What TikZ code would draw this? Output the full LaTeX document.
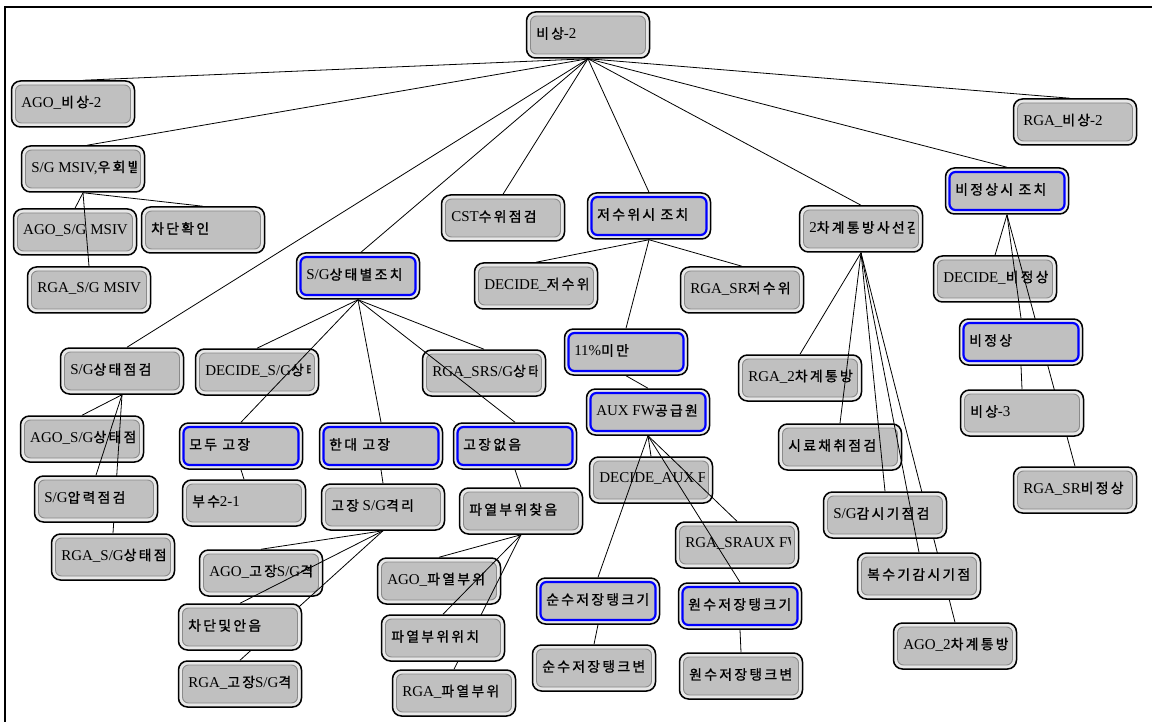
\documentclass[tikz,border=0pt]{standalone}
\usepackage{fontspec}
\setmainfont{Liberation Serif}
\newfontfamily\krfont{Noto Sans CJK KR}[Scale=0.92,LetterSpace=17,FakeBold=1.2]
\newcommand\hg[1]{{\krfont #1}}
\newcommand\lblfont{\fontsize{15pt}{18pt}\selectfont}

\definecolor{boxfill}{HTML}{C0C0C0}
\definecolor{boxband}{HTML}{E8E8E8}
\definecolor{boxline}{HTML}{8A8A8A}
\definecolor{ringblue}{HTML}{0000FF}

% inner face of a box: inset rounded panel with its own rim
\newcommand\boxface[2]{%
  \draw[draw=#1, line width=#2, fill=boxfill, rounded corners=6pt]
    ([shift={(4pt,4pt)}]path picture bounding box.south west) rectangle
    ([shift={(-4pt,-4pt)}]path picture bounding box.north east);}
% label, left aligned and cut off at the inner right edge
\newcommand\boxtext[1]{%
  \begin{scope}
    \clip ([shift={(4pt,4pt)}]path picture bounding box.south west) rectangle
          ([shift={(-8pt,-4pt)}]path picture bounding box.north east);
    \node[anchor=west, inner sep=0pt, minimum width=0pt, minimum height=0pt,
          font=\lblfont, text=black]
      at ([shift={(9pt,1.5pt)}]path picture bounding box.west) {#1};
  \end{scope}}

\pgfdeclarelayer{paper}
\pgfdeclarelayer{wiresunder}
\pgfdeclarelayer{lowboxes}
\pgfdeclarelayer{wires}
\pgfsetlayers{paper,wiresunder,lowboxes,wires,main}

\tikzset{
  wire/.style={draw=black, line width=0.8pt},
  boxbase/.style={rectangle, rounded corners=9pt, minimum width=123pt,
    minimum height=46pt, inner sep=0pt, draw=black, line width=1.5pt, fill=boxband},
  box/.style={boxbase, path picture={\boxface{boxline}{0.9pt}\boxtext{#1}}},
  bluebox/.style={boxbase, path picture={\boxface{ringblue}{2.2pt}\boxtext{#1}}},
}

\begin{document}
\begin{tikzpicture}[x=1pt,y=-1pt]
\useasboundingbox (0,0) rectangle (1152,722);
\begin{pgfonlayer}{paper}
  \fill[white] (0,0) rectangle (1152,722);
\end{pgfonlayer}

% ---------- boxes that wires may cross over ----------
\begin{pgfonlayer}{lowboxes}
  \node[box={AGO\_S/G MSIV}] (agomsiv) at (75,232) {};
  \node[box={DECIDE\_S/G\hg{상태}}] (decsg) at (257,372) {};
  \node[box={RGA\_SRS/G\hg{상태}}] (rgasr) at (484,373) {};
  \node[box={AGO\_S/G\hg{상태점검}}] (agosg) at (82,439) {};
  \node[box={AGO\_\hg{고장}S/G\hg{격리}}] (agogo) at (261,573) {};
  \node[box={AGO\_\hg{파열부위}}] (agopa) at (439,581) {};
  \node[box={DECIDE\_AUX FW}] (decaux) at (651,480) {};
  \node[box={RGA\_SRAUX FW}] (rgaaux) at (737,545) {};
  \node[box={RGA\_2\hg{차계통방사선}}] (rgarad) at (800,378) {};
  \node[box={\hg{시료채취점검}}] (sample) at (840,447) {};
  \node[box={S/G\hg{감시기점검}}] (sgmon) at (885,515) {};
  \node[box={DECIDE\_\hg{비정상}}] (decabn) at (995,279) {};
\end{pgfonlayer}

% ---------- all other boxes ----------
\node[box={\hg{비상}-2}] (root) at (588,35) {};
\node[box={AGO\_\hg{비상}-2}] (agoroot) at (73,104) {};
\node[box={RGA\_\hg{비상}-2}] (rgaroot) at (1075,122) {};
\node[box={S/G MSIV,\hg{우회밸브}}] (msiv) at (83,169) {};
\node[box={\hg{차단확인}}] (cutchk) at (203,230) {};
\node[box={RGA\_S/G MSIV}] (rgamsiv) at (89,290) {};
\node[box={CST\hg{수위점검}}] (cst) at (503,218) {};
\node[bluebox={\hg{저수위시 조치}}] (low) at (649,216) {};
\node[box={2\hg{차계통방사선감시}}] (rad) at (861,229) {};
\node[bluebox={\hg{비정상시 조치}}] (abn) at (1007,191) {};
\node[bluebox={S/G\hg{상태별조치}}] (sgact) at (358,276) {};
\node[box={DECIDE\_\hg{저수위}}] (declow) at (536,286) {};
\node[box={RGA\_SR\hg{저수위}}] (rgalow) at (742,290) {};
\node[box={S/G\hg{상태점검}}] (sgchk) at (122,371) {};
\node[bluebox={11\%\hg{미만}}] (under) at (626,352) {};
\node[bluebox={\hg{비정상}}] (abnst) at (1021,342) {};
\node[bluebox={\hg{모두 고장}}] (allfail) at (241,446) {};
\node[bluebox={\hg{한대 고장}}] (onefail) at (381,446) {};
\node[bluebox={\hg{고장없음}}] (nofail) at (515,446) {};
\node[bluebox={AUX FW\hg{공급원}}] (aux) at (648,412) {};
\node[box={\hg{비상}-3}] (emer) at (1022,413) {};
\node[box={S/G\hg{압력점검}}] (press) at (96,499) {};
\node[box={\hg{부수}2-1}] (bu) at (244,503) {};
\node[box={\hg{고장} S/G\hg{격리}}] (isol) at (383,507) {};
\node[box={\hg{파열부위찾음}}] (rupt) at (521,511) {};
\node[box={RGA\_SR\hg{비정상}}] (rgaabn) at (1075,490) {};
\node[box={RGA\_S/G\hg{상태점검}}] (rgasg) at (113,557) {};
\node[box={\hg{복수기감시기점검}}] (cond) at (919,576) {};
\node[bluebox={\hg{순수저장탱크기}}] (pure) at (598,601) {};
\node[bluebox={\hg{원수저장탱크기}}] (raw) at (740,606) {};
\node[box={\hg{차단및안음}}] (cutnot) at (240,627) {};
\node[box={\hg{파열부위위치}}] (ruptloc) at (443,638) {};
\node[box={\hg{순수저장탱크변}}] (purev) at (594,668) {};
\node[box={\hg{원수저장탱크변}}] (rawv) at (741,676) {};
\node[box={AGO\_2\hg{차계통방사선}}] (agorad) at (955,646) {};
\node[box={RGA\_\hg{고장}S/G\hg{격리}}] (rgaisol) at (240,684) {};
\node[box={RGA\_\hg{파열부위}}] (rgarupt) at (454,693) {};

% ---------- connectors ----------
\begin{pgfonlayer}{wiresunder}
  \draw[wire] (rad.south) -- (agorad.north);
\end{pgfonlayer}
\begin{pgfonlayer}{wires}
  \draw[wire] (root.south) -- ([xshift=10pt]agoroot.north);
  \draw[wire] (root.south) -- ([xshift=4pt]msiv.north);
  \draw[wire] (root.south) -- ([xshift=5pt]sgchk.north);
  \draw[wire] (root.south) -- ([xshift=3pt]sgact.north);
  \draw[wire] (root.south) -- (cst.north);
  \draw[wire] (root.south) -- (low.north);
  \draw[wire] (root.south) -- (rad.north);
  \draw[wire] (root.south) -- (abn.north);
  \draw[wire] (root.south) -- ([xshift=-5pt]rgaroot.north);

  \draw[wire] (msiv.south) -- (agomsiv.north);
  \draw[wire] (msiv.south) -- (cutchk.north);
  \draw[wire] (msiv.south) -- (rgamsiv.north);

  \draw[wire] (sgchk.south) -- (agosg.north);
  \draw[wire] (sgchk.south) -- (press.north);
  \draw[wire] (sgchk.south) -- (rgasg.north);

  \draw[wire] (sgact.south) -- (decsg.north);
  \draw[wire] (sgact.south) -- (allfail.north);
  \draw[wire] (sgact.south) -- (onefail.north);
  \draw[wire] (sgact.south) -- (rgasr.north);
  \draw[wire] (sgact.south) -- (nofail.north);

  \draw[wire] (allfail.south) -- (bu.north);
  \draw[wire] (onefail.south) -- (isol.north);
  \draw[wire] (nofail.south) -- (rupt.north);

  \draw[wire] (isol.south) -- (agogo.north);
  \draw[wire] (isol.south) -- (cutnot.north);
  \draw[wire] (isol.south) -- (rgaisol.north);

  \draw[wire] (rupt.south) -- (agopa.north);
  \draw[wire] (rupt.south) -- (ruptloc.north);
  \draw[wire] (rupt.south) -- (rgarupt.north);

  \draw[wire] (low.south) -- (declow.north);
  \draw[wire] (low.south) -- (rgalow.north);
  \draw[wire] (low.south) -- (under.north);
  \draw[wire] (under.south) -- (aux.north);

  \draw[wire] (aux.south) -- (decaux.north);
  \draw[wire] (aux.south) -- (pure.north);
  \draw[wire] (aux.south) -- (rgaaux.north);
  \draw[wire] (aux.south) -- (raw.north);
  \draw[wire] (pure.south) -- (purev.north);
  \draw[wire] (raw.south) -- (rawv.north);

  \draw[wire] (rad.south) -- (rgarad.north);
  \draw[wire] (rad.south) -- (sample.north);
  \draw[wire] (rad.south) -- (sgmon.north);
  \draw[wire] (rad.south) -- (cond.north);

  \draw[wire] (abn.south) -- (decabn.north);
  \draw[wire] (abn.south) -- (abnst.north);
  \draw[wire] (abn.south) -- (rgaabn.north);
  \draw[wire] (abnst.south) -- (emer.north);
\end{pgfonlayer}

% window frame
\draw[line width=2pt] (5,722) -- (5,7) -- (1152,7);
\end{tikzpicture}
\end{document}
